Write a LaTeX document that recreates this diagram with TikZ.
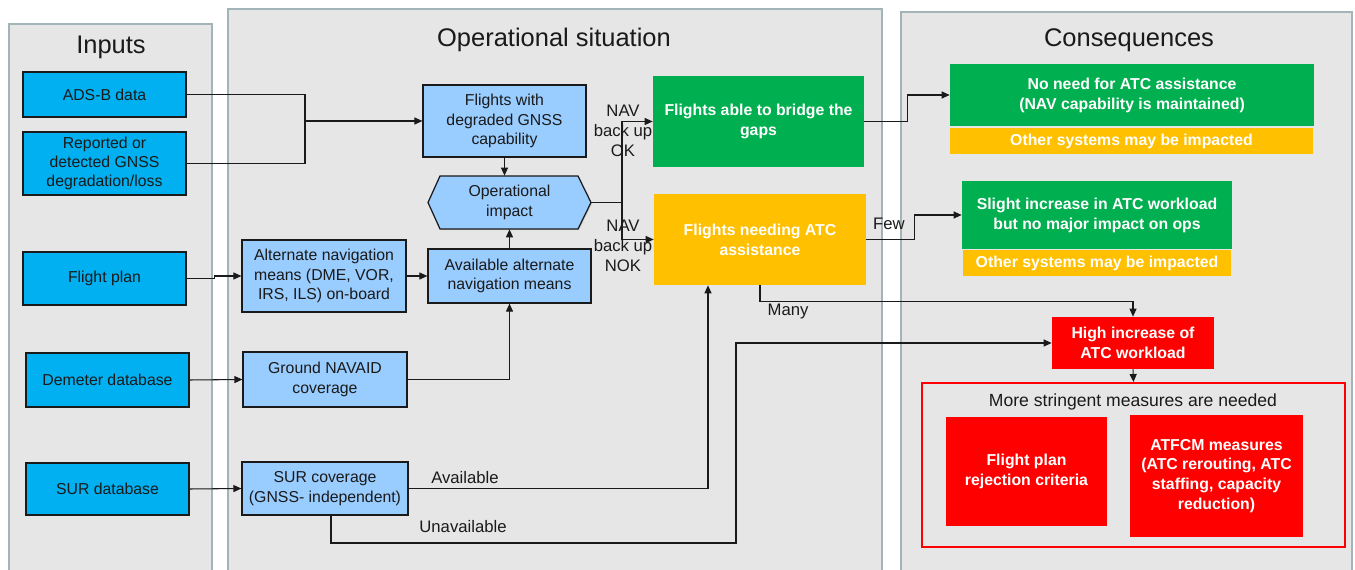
\documentclass[tikz,border=0pt]{standalone}
\usepackage{fontspec}
\setmainfont{Liberation Sans}
\usepackage{tikz}
\usetikzlibrary{arrows.meta,positioning,calc,shadows}

\definecolor{panelgray}{HTML}{E6E6E6}
\definecolor{panelrim}{HTML}{A3B4B8}
\definecolor{inblue}{HTML}{00B0F0}
\definecolor{navblue}{HTML}{99CCFF}
\definecolor{okgreen}{HTML}{00B050}
\definecolor{warnorange}{HTML}{FFC000}
\definecolor{alertred}{HTML}{FF0000}
\definecolor{inkdark}{HTML}{1A1A1A}

\begin{document}
\begin{tikzpicture}[x=0.02cm, y=-0.02cm,
  panel/.style={draw=panelrim, line width=1.2pt, fill=panelgray},
  title/.style={font=\fontsize{14.5}{17}\selectfont, text=inkdark},
  inbox/.style={rectangle, draw=inkdark, line width=0.7pt, fill=inblue,
                align=center, font=\fontsize{9}{11}\selectfont, text=inkdark,
                minimum width=3.26cm, inner sep=2pt,
                drop shadow={shadow xshift=0.6pt, shadow yshift=-0.6pt, opacity=0.3}},
  navbox/.style={inbox, fill=navblue},
  outbox/.style={rectangle, fill=#1, align=center, text=white,
                 font=\bfseries\fontsize{9}{11.3}\selectfont, inner sep=2pt},
  outbox/.default={okgreen},
  link/.style={line width=0.6pt, draw=inkdark},
  arrow/.style={link, -{Triangle[length=1.6mm, width=1.4mm]}},
  note/.style={font=\fontsize{9.5}{11.5}\selectfont, text=inkdark, align=center, inner sep=1pt}
]
  \useasboundingbox (0,0) rectangle (1355,570);

  % panels
  \draw[panel] (9,24) rectangle (212,576);
  \draw[panel] (228,9) rectangle (882,576);
  \draw[panel] (901,12) rectangle (1352,576);
  \node[title] (tin) at (111,47) {Inputs};
  \node[title] (tops) at (554,40) {Operational situation};
  \node[title] (tcons) at (1129,40) {Consequences};

  % inputs
  \node[inbox, minimum height=0.9cm] (ads) at (104.5,94.5) {ADS-B data};
  \node[inbox, minimum height=1.26cm] (gnss) at (104.5,163.5) {Reported or\\detected GNSS\\degradation/loss};
  \node[inbox, minimum height=1.06cm] (fpl) at (104.5,278.5) {Flight plan};
  \node[inbox, minimum height=1.08cm] (demeter) at (107.5,380) {Demeter database};
  \node[inbox, minimum height=1.04cm] (surdb) at (107.5,489) {SUR database};

  % operational situation
  \node[navbox, minimum height=1.44cm] (degraded) at (504.5,121) {Flights with\\degraded GNSS\\capability};
  \draw[line width=0.7pt, draw=inkdark, fill=navblue,
        drop shadow={shadow xshift=0.6pt, shadow yshift=-0.6pt, opacity=0.3}]
    (440,176) -- (578,176) -- (591,202.5) -- (578,229) -- (440,229) -- (428,202.5) -- cycle;
  \node[note, font=\fontsize{9}{11}\selectfont, minimum width=3.26cm, minimum height=1.06cm] (impact) at (509.5,202.5) {Operational\\impact};
  \node[navbox, minimum height=1.08cm] (altnav) at (509.5,276) {Available alternate\\navigation means};
  \node[navbox, minimum width=3.28cm, minimum height=1.44cm] (onboard) at (324,276) {Alternate navigation\\means (DME, VOR,\\IRS, ILS) on-board};
  \node[navbox, minimum width=3.28cm, minimum height=1.1cm] (ground) at (325,379.5) {Ground NAVAID\\coverage};
  \node[navbox, minimum width=3.32cm, minimum height=1.06cm] (surcov) at (325,488.5) {SUR coverage\\(GNSS- independent)};

  \node[outbox=okgreen, minimum width=4.22cm, minimum height=1.82cm] (bridge) at (758.5,121.5) {Flights able to bridge the\\gaps};
  \node[outbox=warnorange, minimum width=4.24cm, minimum height=1.82cm] (needing) at (760,239.5) {Flights needing ATC\\assistance};

  % consequences
  \node[outbox=okgreen, minimum width=7.28cm, minimum height=1.24cm] (noneed) at (1132,95) {No need for ATC assistance\\(NAV capability is maintained)};
  \node[outbox=warnorange, minimum width=7.26cm, minimum height=0.52cm] (other1) at (1131.5,141) {Other systems may be impacted};
  \node[outbox=okgreen, minimum width=5.4cm, minimum height=1.36cm] (slight) at (1097,215) {Slight increase in ATC workload\\but no major impact on ops};
  \node[outbox=warnorange, minimum width=5.36cm, minimum height=0.52cm] (other2) at (1097,263) {Other systems may be impacted};
  \node[outbox=alertred, minimum width=3.24cm, minimum height=1.04cm] (high) at (1133,343) {High increase of\\ATC workload};
  \node[draw=alertred, line width=1.1pt, minimum width=8.46cm, minimum height=3.28cm] (frame) at (1133.5,465) {};
  \node[note, font=\fontsize{10}{12}\selectfont] (stringent) at (1133,402) {More stringent measures are needed};
  \node[outbox=alertred, minimum width=3.22cm, minimum height=2.18cm] (reject) at (1026.5,471.5) {Flight plan\\rejection criteria};
  \node[outbox=alertred, minimum width=3.46cm, minimum height=2.44cm] (atfcm) at (1216.5,476) {ATFCM measures\\(ATC rerouting, ATC\\staffing, capacity\\reduction)};

  % connectors
  \coordinate (join) at (305,121);
  \draw[link] (ads.east) -| (join);
  \draw[link] (gnss.east) -| (join);
  \draw[arrow] (join) -- (degraded.west);
  \draw[arrow] (fpl.east) -- ++(28,0) |- (onboard.west);
  \draw[arrow] (demeter.east) -- (ground.west);
  \draw[arrow] (surdb.east) -- (surcov.west);
  \draw[arrow] (onboard.east) -- (altnav.west);
  \draw[arrow] (ground.east) -| (altnav.south);
  \draw[arrow] (altnav.north) -- (impact.south);
  \draw[arrow] (degraded.south) -- (degraded.south |- impact.north);

  \coordinate (split) at (622,202.5);
  \draw[link] (impact.east) -- (split);
  \draw[arrow] (split) |- (bridge.west);
  \draw[arrow] (split) |- (needing.west);
  \node[note] (navok) at (623,131) {NAV\\back up\\OK};
  \node[note] (navnok) at (623,246) {NAV\\back up\\NOK};

  \draw[arrow] (bridge.east) -- ++(43,0) |- (noneed.west);
  \draw[arrow] (needing.east) -- ++(48,0) |- (slight.west);
  \node[note] (few) at (889,224) {Few};
  \draw[arrow] (needing.south) -- ++(0,16) -| (high.north);
  \node[note] (many) at (788,311) {Many};

  \coordinate (availturn) at (708,488.5);
  \draw[arrow] (surcov.east) -- (availturn) -- (availturn |- needing.south);
  \node[note] (avail) at (465,478) {Available};
  \coordinate (unavturn) at (736,543);
  \draw[arrow] ($(surcov.south)+(6,0)$) |- (unavturn) |- (high.west);
  \node[note] (unavail) at (463,527) {Unavailable};

  \draw[arrow] (high.south) -- (frame.north);
\end{tikzpicture}
\end{document}
